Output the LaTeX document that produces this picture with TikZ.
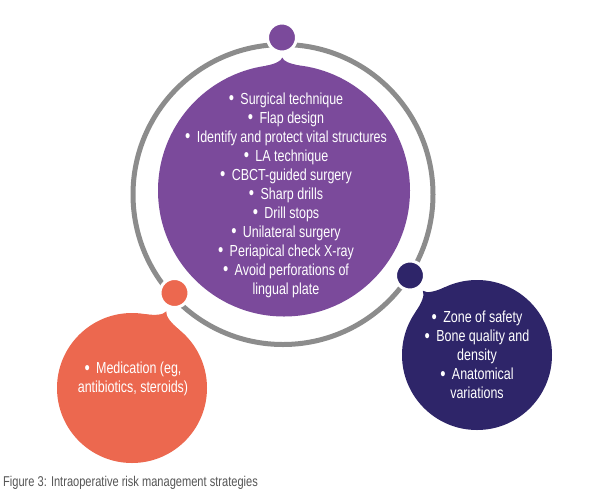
\documentclass[tikz,border=0pt]{standalone}
\usepackage{fontspec}
\setmainfont{Liberation Sans}[FakeStretch=0.78]
\usetikzlibrary{calc}
\definecolor{purplec}{RGB}{123,74,155}
\definecolor{orangec}{RGB}{236,104,79}
\definecolor{navyc}{RGB}{46,37,105}
\definecolor{ringgray}{RGB}{140,140,140}
\definecolor{capgray}{RGB}{85,85,85}
\newcommand\bul{\raisebox{-0.04em}{\scalebox{1.2}{\textbullet}}\hspace{0.4em}}
\newcommand\bubbletip[6]{%
  \pgfmathsetmacro\bbrA{#2+1}%
  \pgfmathsetmacro\bbrB{#2+#5*0.45}%
  \pgfmathsetmacro\bbrT{#2+#5}%
  \pgfmathsetmacro\bbaA{#4*0.45}%
  \pgfmathsetmacro\bbaB{#4*0.07}%
  \fill[#6] ($(#1)!#2pt!#4:(#3)$)
    .. controls ($(#1)!\bbrA pt!\bbaA:(#3)$) and ($(#1)!\bbrB pt!\bbaB:(#3)$) ..
    ($(#1)!\bbrT pt!(#3)$)
    .. controls ($(#1)!\bbrB pt!-\bbaB:(#3)$) and ($(#1)!\bbrA pt!-\bbaA:(#3)$) ..
    ($(#1)!#2pt!-#4:(#3)$) -- (#1) -- cycle;}
\begin{document}
\begin{tikzpicture}[x=1pt,y=-1pt,
  bigcirc/.style={circle,inner sep=0pt,minimum size=#1},
  dotc/.style={circle,inner sep=0pt,minimum size=29pt,draw=white,line width=3pt,fill=#1},
  txt/.style={text=white,align=center,font=\fontsize{16pt}{19pt}\selectfont,inner sep=0pt}]
\useasboundingbox[fill=white] (0,0) rectangle (600,499);
% ring
\coordinate (rc) at (283,194.5);
\draw[ringgray,line width=5pt] (rc) circle[radius=150pt];
% small dots on ring
\node[dotc=purplec] (dp) at (282,37.5) {};
\node[dotc=orangec] (do) at (174.5,293) {};
\node[dotc=navyc] (dn) at (410,275.5) {};
% big circles
\node[bigcirc=252pt,fill=purplec] (cp) at (284,190.5) {};
\node[bigcirc=150pt,fill=orangec] (co) at (132,388) {};
\node[bigcirc=150pt,fill=navyc] (cn) at (477,355) {};
% bubble tips
\bubbletip{cp.center}{126}{dp.center}{7.5}{7}{purplec}
\bubbletip{co.center}{75}{do.center}{15}{9}{orangec}
\bubbletip{cn.center}{75}{dn.center}{15}{9}{navyc}
% texts
\node[txt] (tp) at (286,195) {\bul Surgical technique\\
\bul Flap design\\
\bul Identify and protect vital structures\\
\bul LA technique\\
\bul CBCT-guided surgery\\
\bul Sharp drills\\
\bul Drill stops\\
\bul Unilateral surgery\\
\bul Periapical check X-ray\\
\bul Avoid perforations of\\
lingual plate};
\node[txt] (to) at (133,379) {\bul Medication (eg,\\antibiotics, steroids)};
\node[txt] (tn) at (477,355) {\bul Zone of safety\\
\bul Bone quality and\\
density\\
\bul Anatomical\\
variations};
% caption
\node[anchor=west,text=capgray,font=\fontsize{14.2pt}{16pt}\selectfont,inner sep=0pt] (cap) at (3,483) {Figure 3: Intraoperative risk management strategies};
\end{tikzpicture}
\end{document}
